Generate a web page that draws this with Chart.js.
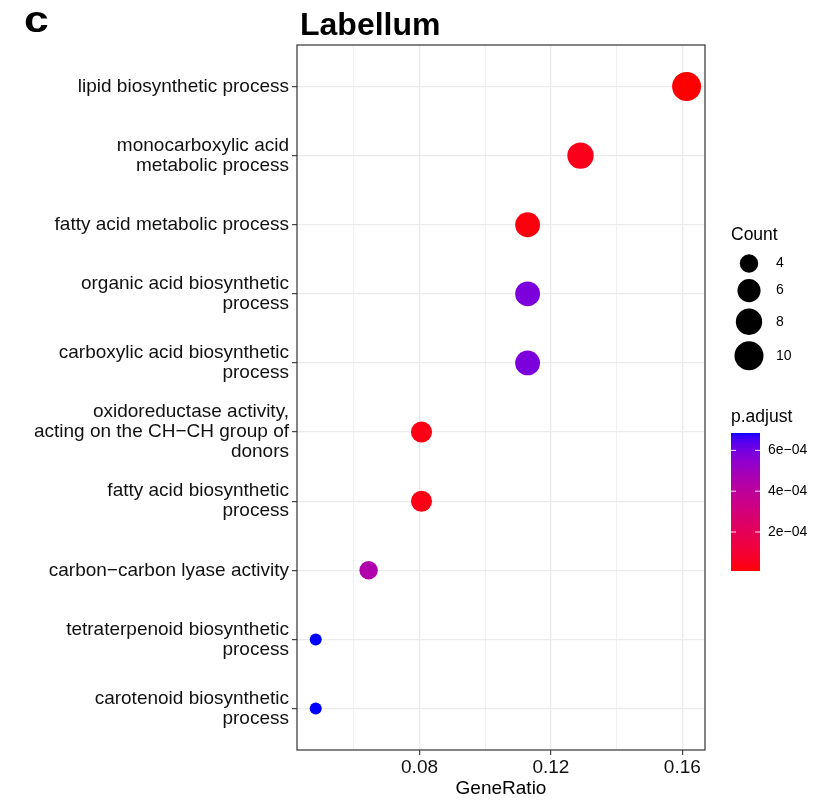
<!DOCTYPE html>
<html>
<head>
<meta charset="utf-8">
<script src="https://cdn.jsdelivr.net/npm/chart.js@4.4.1/dist/chart.umd.min.js"></script>
<style>
  html, body { margin: 0; padding: 0; background: #fff; }
  #wrap { width: 820px; height: 800px; }
</style>
</head>
<body>
<div id="wrap"><canvas id="dotChart" width="820" height="800"></canvas></div>
<script>
// GO terms, top to bottom (already wrapped like the original)
const terms = [
    ['lipid biosynthetic process'],
    ['monocarboxylic acid', 'metabolic process'],
    ['fatty acid metabolic process'],
    ['organic acid biosynthetic', 'process'],
    ['carboxylic acid biosynthetic', 'process'],
    ['oxidoreductase activity,', 'acting on the CH\u2212CH group of', 'donors'],
    ['fatty acid biosynthetic', 'process'],
    ['carbon\u2212carbon lyase activity'],
    ['tetraterpenoid biosynthetic', 'process'],
    ['carotenoid biosynthetic', 'process']
];
const geneRatio = [0.1613, 0.1290, 0.1129, 0.1129, 0.1129, 0.0806, 0.0806, 0.0645, 0.0484, 0.0484];
const counts = [10, 8, 7, 7, 7, 5, 5, 4, 3, 3];
const pAdjust = [0.9e-5, 4.3e-5, 2.3e-5, 5.84e-4, 5.84e-4, 3.6e-5, 3.6e-5, 4.48e-4, 6.85e-4, 6.85e-4];

const xTicks = [0.06, 0.08, 0.10, 0.12, 0.14, 0.16];
const xLabelTicks = [0.08, 0.12, 0.16];
const countLegend = [4, 6, 8, 10];
const pLegendTicks = [2e-4, 4e-4, 6e-4];
const pLegendLabels = ['2e\u221204', '4e\u221204', '6e\u221204'];

const FONT = "'Liberation Sans', Arial, Helvetica, sans-serif";

// size scale (area), like ggplot scale_size range 3..8
const cMin = Math.min(...counts), cMax = Math.max(...counts);
function radiusFor(c) {
    const s = 3 + 5 * Math.sqrt((c - cMin) / (cMax - cMin));
    return (3.4 * s + 1.8) / 2;
}

// colour scale red -> blue, interpolated in Lab
function toLin(c) { c /= 255; return c <= 0.04045 ? c / 12.92 : Math.pow((c + 0.055) / 1.055, 2.4); }
function toSrgb(c) {
    c = c <= 0.0031308 ? 12.92 * c : 1.055 * Math.pow(c, 1 / 2.4) - 0.055;
    return Math.round(Math.max(0, Math.min(1, c)) * 255);
}
function rgbToLab(rgb) {
    const r = toLin(rgb[0]), g = toLin(rgb[1]), b = toLin(rgb[2]);
    const f = t => t > 0.008856 ? Math.cbrt(t) : 7.787 * t + 16 / 116;
    const x = f((r * 0.4124 + g * 0.3576 + b * 0.1805) / 0.95047);
    const y = f(r * 0.2126 + g * 0.7152 + b * 0.0722);
    const z = f((r * 0.0193 + g * 0.1192 + b * 0.9505) / 1.08883);
    return [116 * y - 16, 500 * (x - y), 200 * (y - z)];
}
function labToRgb(lab) {
    const fy = (lab[0] + 16) / 116, fx = lab[1] / 500 + fy, fz = fy - lab[2] / 200;
    const fi = t => t * t * t > 0.008856 ? t * t * t : (t - 16 / 116) / 7.787;
    const x = fi(fx) * 0.95047, y = fi(fy), z = fi(fz) * 1.08883;
    return [
        toSrgb(x * 3.2406 - y * 1.5372 - z * 0.4986),
        toSrgb(-x * 0.9689 + y * 1.8758 + z * 0.0415),
        toSrgb(x * 0.0557 - y * 0.2040 + z * 1.0570)
    ];
}
const labLow = rgbToLab([255, 0, 0]);
const labHigh = rgbToLab([0, 0, 255]);
const pMin = Math.min(...pAdjust), pMax = Math.max(...pAdjust);
function colourAt(t) {
    const lab = labLow.map((v, i) => v + (labHigh[i] - v) * t);
    const rgb = labToRgb(lab);
    return `rgb(${rgb[0]},${rgb[1]},${rgb[2]})`;
}
function colourFor(p) { return colourAt((p - pMin) / (pMax - pMin)); }

const points = geneRatio.map((g, i) => ({ x: g, y: i + 1, r: radiusFor(counts[i]) }));

// titles, panel border and legends
const decorPlugin = {
    id: 'decor',
    afterDraw(chart) {
        const c = chart.ctx;
        const a = chart.chartArea;
        c.save();
        c.strokeStyle = '#333333';
        c.lineWidth = 1.2;
        c.strokeRect(a.left, a.top, a.right - a.left, a.bottom - a.top);

        c.fillStyle = '#000';
        c.textBaseline = 'alphabetic';
        c.textAlign = 'left';
        c.save();
        c.translate(24, 32);
        c.scale(1.2, 1);
        c.font = `bold 37px ${FONT}`;
        c.fillText('c', 0, 0);
        c.restore();
        c.font = `bold 32px ${FONT}`;
        c.fillText('Labellum', 300, 35);

        // Count legend
        const lx = 731;
        c.font = `17.5px ${FONT}`;
        c.fillText('Count', lx, 240);
        let y = 251;
        c.font = `14px ${FONT}`;
        c.textBaseline = 'middle';
        countLegend.forEach(n => {
            const r = radiusFor(n);
            const h = 2 * r + 6.4;
            const cy = y + h / 2;
            c.beginPath();
            c.arc(749, cy, r, 0, Math.PI * 2);
            c.fillStyle = '#000';
            c.fill();
            c.fillText(String(n), 776, cy);
            y += h;
        });

        // p.adjust colourbar
        c.textBaseline = 'alphabetic';
        c.font = `17.5px ${FONT}`;
        c.fillText('p.adjust', lx, 422);
        const top = 433, bottom = 571, w = 29;
        const hgt = bottom - top;
        for (let i = 0; i < hgt; i++) {
            c.fillStyle = colourAt(1 - (i + 0.5) / hgt);
            c.fillRect(lx, top + i, w, 1);
        }
        c.font = `14px ${FONT}`;
        c.textBaseline = 'middle';
        pLegendTicks.forEach((p, i) => {
            const ty = bottom - (p - pMin) / (pMax - pMin) * hgt;
            c.strokeStyle = 'rgba(255,255,255,0.9)';
            c.lineWidth = 1;
            c.beginPath();
            c.moveTo(lx, ty); c.lineTo(lx + 5, ty);
            c.moveTo(lx + w - 5, ty); c.lineTo(lx + w, ty);
            c.stroke();
            c.fillStyle = '#000';
            c.fillText(pLegendLabels[i], 768, ty);
        });
        c.restore();
    }
};

new Chart(document.getElementById('dotChart'), {
    type: 'bubble',
    data: {
        datasets: [{
            data: points,
            backgroundColor: pAdjust.map(colourFor),
            borderWidth: 0,
            hoverBorderWidth: 0
        }]
    },
    options: {
        responsive: false,
        animation: false,
        events: [],
        layout: { padding: { top: 45, right: 115, bottom: 0, left: 0 } },
        plugins: { legend: { display: false }, tooltip: { enabled: false } },
        scales: {
            x: {
                type: 'linear',
                min: 0.0427,
                max: 0.1669,
                afterBuildTicks: s => { s.ticks = xTicks.map(v => ({ value: v })); },
                afterFit: s => { s.height = 50; },
                border: { display: false },
                grid: {
                    color: '#EBEBEB',
                    lineWidth: ctx => xLabelTicks.some(v => Math.abs(v - ctx.tick.value) < 1e-9) ? 1.3 : 0.7,
                    tickColor: ctx => xLabelTicks.some(v => Math.abs(v - ctx.tick.value) < 1e-9) ? '#333333' : 'rgba(0,0,0,0)',
                    tickLength: 5,
                    tickWidth: 1.1
                },
                ticks: {
                    padding: 1,
                    color: '#111',
                    font: { family: FONT, size: 19 },
                    maxRotation: 0,
                    autoSkip: false,
                    callback: v => xLabelTicks.some(t => Math.abs(t - v) < 1e-9) ? v.toFixed(2) : ''
                },
                title: {
                    display: true,
                    text: 'GeneRatio',
                    color: '#000',
                    font: { family: FONT, size: 19 },
                    padding: { top: 0, bottom: 0 }
                }
            },
            y: {
                type: 'linear',
                reverse: true,
                min: 0.4,
                max: 10.6,
                afterBuildTicks: s => { s.ticks = terms.map((t, i) => ({ value: i + 1 })); },
                afterFit: s => { s.width = 297; },
                border: { display: false },
                grid: {
                    color: '#EBEBEB',
                    lineWidth: 1.3,
                    tickColor: '#333333',
                    tickLength: 5,
                    tickWidth: 1.1
                },
                ticks: {
                    padding: 3,
                    color: '#111',
                    font: { family: FONT, size: 19, lineHeight: 1.053 },
                    autoSkip: false,
                    callback: v => terms[Math.round(v) - 1]
                }
            }
        }
    },
    plugins: [decorPlugin]
});
</script>
</body>
</html>
